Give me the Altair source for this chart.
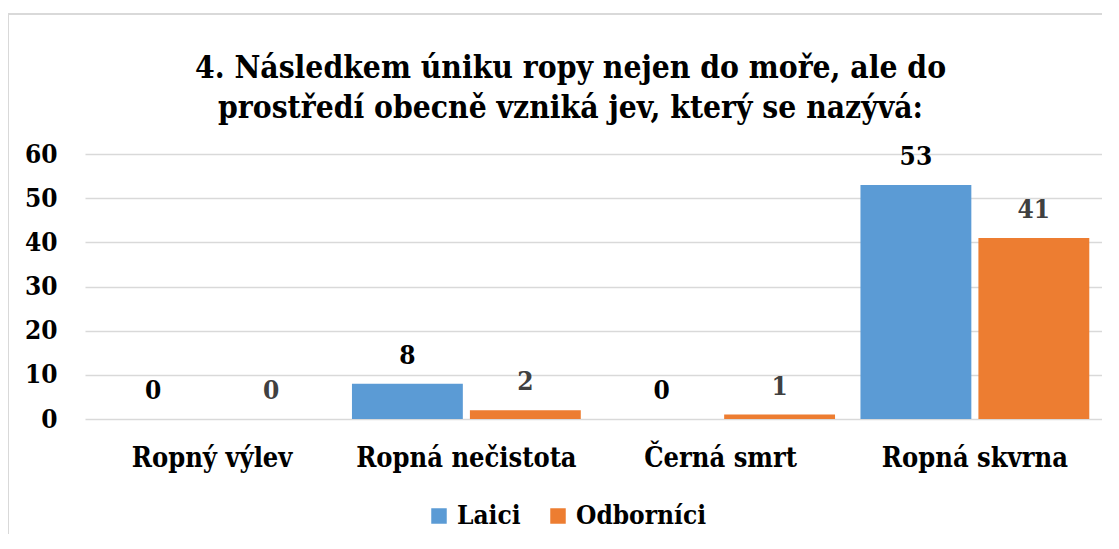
import altair as alt
import pandas as pd

categories = ["Ropný výlev", "Ropná nečistota", "Černá smrt", "Ropná skvrna"]
laici = [0, 8, 0, 53]
odbornici = [0, 2, 1, 41]
series = ["Laici", "Odborníci"]

rows = []
for c, a, b in zip(categories, laici, odbornici):
    rows.append({"cat": c, "group": series[0], "value": a})
    rows.append({"cat": c, "group": series[1], "value": b})
df = pd.DataFrame(rows)

FONT = "DejaVu Serif Condensed"

x = alt.X("cat:N", sort=categories, title=None,
          scale=alt.Scale(paddingInner=0.1, paddingOuter=0.05),
          axis=alt.Axis(labelAngle=0, labelFont=FONT, labelFontSize=27, labelFontWeight="bold",
                        labelColor="#000000", ticks=False, domain=False, labelPadding=26,
                        labelLimit=400))
xo = alt.XOffset("group:N", sort=series, scale=alt.Scale(paddingInner=0.06))

base = alt.Chart(df)

frame = alt.Chart(pd.DataFrame({"k": [0]})).mark_rect(
    fill=None, stroke="#D9D9D9", strokeWidth=2
).encode(x=alt.value(-77), x2=alt.value(1100), y=alt.value(-140), y2=alt.value(420))

bars = base.mark_bar().encode(
    x=x, xOffset=xo,
    y=alt.Y("value:Q", title=None,
            scale=alt.Scale(domain=[0, 60]),
            axis=alt.Axis(values=[0, 10, 20, 30, 40, 50, 60], labelFont=FONT, labelFontSize=26,
                          labelFontWeight="bold", labelColor="#000000", ticks=False, domain=False,
                          labelPadding=28, gridColor="#D9D9D9", gridWidth=1.5)),
    color=alt.Color("group:N", sort=series,
                    scale=alt.Scale(domain=series, range=["#5B9BD5", "#ED7D31"]),
                    legend=alt.Legend(title=None, orient="none", direction="horizontal",
                                      legendX=341, legendY=349,
                                      symbolType="square", symbolSize=240, symbolStrokeWidth=0,
                                      labelFont=FONT, labelFontSize=26, labelFontWeight="bold",
                                      labelColor="#000000", columnPadding=24,
                                      labelOffset=5)),
)

labels = base.mark_text(font=FONT, fontSize=26, fontWeight="bold", baseline="bottom", dy=-15).encode(
    x=x, xOffset=xo,
    y="value:Q",
    text="value:Q",
    color=alt.Color("group:N", sort=series,
                    scale=alt.Scale(domain=series, range=["#000000", "#404040"]), legend=None),
)

chart = alt.layer(frame, bars, labels).resolve_scale(color="independent").properties(
    width=1017, height=265,
    title=alt.TitleParams(
        ["4. Následkem úniku ropy nejen do moře, ale do", "prostředí obecně vzniká jev, který se nazývá:"],
        font=FONT, fontSize=31.5, fontWeight="bold", color="#000000", lineHeight=40,
        anchor="middle", dx=-23, offset=-111),
    autosize=alt.AutoSizeParams(type="none"),
    padding={"left": 77, "top": 146, "right": 0, "bottom": 115},
).configure_view(stroke=None)

chart.save("out.html", embed_options={"renderer": "svg", "actions": False})
